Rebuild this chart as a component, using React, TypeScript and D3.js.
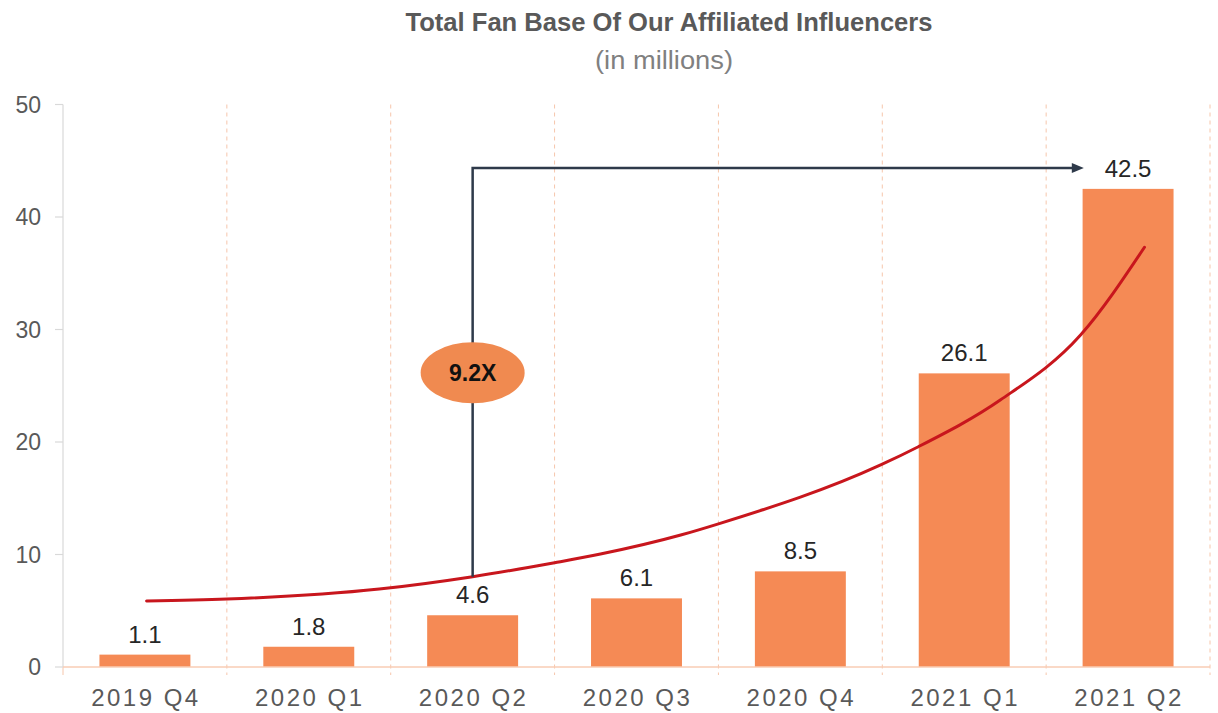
import React from "react";
import * as d3 from "d3";

const categories = ["2019 Q4", "2020 Q1", "2020 Q2", "2020 Q3", "2020 Q4", "2021 Q1", "2021 Q2"];
const fanBase = [1.1, 1.8, 4.6, 6.1, 8.5, 26.1, 42.5];
const yTicks = [0, 10, 20, 30, 40, 50];

// decorative growth curve: position in category units (0 = first category centre), value
const curvePos = [0.01, 0.5, 1.43, 2.0, 2.5, 2.78, 3.27, 3.51, 4.49, 4.72, 5.22, 5.71, 6.1];
const curveVal = [5.87, 6.04, 6.93, 8.03, 9.27, 10.04, 11.73, 12.77, 17.96, 19.58, 23.73, 29.51, 37.31];

// growth annotation: elbow arrow from 2020 Q2 to 2021 Q2
const arrowPos = [2.0, 2.0, 5.73];
const arrowVal = [8.03, 44.36, 44.36];
const badgeLabel = "9.2X";
const badgePos = 2.0;
const badgeVal = 26.16;

const title = "Total Fan Base Of Our Affiliated Influencers";
const subtitle = "(in millions)";

const W = 1218;
const H = 713;
const FONT = "'Liberation Sans', Arial, Helvetica, sans-serif";

export default function App() {
  const left = 63;
  const right = 1210;
  const x = d3.scaleBand<string>().domain(categories).range([left, right]).padding(0);
  const y = d3.scaleLinear().domain([0, 50]).range([667, 104.5]);
  const bw = x.bandwidth();
  const barW = bw * 0.555;
  const xc = (t: number) => left + bw * (t + 0.5);

  const curvePts: [number, number][] = curvePos.map((t, i) => [xc(t), y(curveVal[i])]);
  const curvePath = d3.line().curve(d3.curveMonotoneX)(curvePts) || "";

  const arrowPts: [number, number][] = arrowPos.map((t, i) => [xc(t), y(arrowVal[i])]);
  const arrowPath = d3.line()(arrowPts.slice(0, 2).concat([[arrowPts[2][0] - 8, arrowPts[2][1]]])) || "";
  const tip = arrowPts[2];

  const boundaries = d3.range(categories.length + 1).map((i) => left + i * bw);

  return (
    <svg width={W} height={H} style={{ position: "absolute", left: 0, top: 0, background: "#fff" }} fontFamily={FONT}>
      <rect x={0} y={0} width={W} height={H} fill="#fff" />
      <text x={669} y={31} textAnchor="middle" fontSize={25.5} fontWeight="bold" fill="#595959"
        textLength={527} lengthAdjust="spacingAndGlyphs">{title}</text>
      <text x={664} y={69} textAnchor="middle" fontSize={26} fill="#808080"
        textLength={138} lengthAdjust="spacingAndGlyphs">{subtitle}</text>

      {/* vertical dashed separators */}
      {boundaries.slice(1).map((bx, i) => (
        <line key={"g" + i} x1={bx} x2={bx} y1={y(50)} y2={675} stroke="#F6C6AB" strokeWidth={1} strokeDasharray="4,4" />
      ))}
      <line x1={left} x2={left} y1={675} y2={y(0)} stroke="#F6C6AB" strokeWidth={1} />

      {/* y axis */}
      <line x1={left} x2={left} y1={y(50)} y2={y(0)} stroke="#d9d9d9" strokeWidth={1.2} />
      {yTicks.map((t) => (
        <g key={"y" + t}>
          <line x1={55} x2={left} y1={y(t)} y2={y(t)} stroke="#d9d9d9" strokeWidth={1.2} />
          <text x={41} y={y(t)} dy="0.36em" textAnchor="end" fontSize={23} fill="#595959">{t}</text>
        </g>
      ))}

      {/* bars */}
      {categories.map((c, i) => {
        const cx = (x(c) as number) + bw / 2;
        return (
          <g key={c}>
            <rect x={cx - barW / 2} y={y(fanBase[i])} width={barW} height={y(0) - y(fanBase[i])} fill="#F58A55" />
            <text x={cx} y={y(fanBase[i]) - 12} textAnchor="middle" fontSize={24} fill="#262626">{fanBase[i]}</text>
            <text x={cx + 1} y={706} textAnchor="middle" fontSize={24} fill="#595959" letterSpacing={2.5}>{c}</text>
          </g>
        );
      })}

      {/* x axis line */}
      <line x1={left} x2={right} y1={y(0)} y2={y(0)} stroke="#F9CDB5" strokeWidth={1.5} />

      {/* growth curve */}
      <path d={curvePath} fill="none" stroke="#C8161D" strokeWidth={3} strokeLinecap="round" />

      {/* annotation arrow */}
      <path d={arrowPath} fill="none" stroke="#2E3A4A" strokeWidth={2.5} />
      <path d={`M${tip[0]},${tip[1]} L${tip[0] - 12},${tip[1] - 5} L${tip[0] - 12},${tip[1] + 5} Z`} fill="#2E3A4A" />
      <ellipse cx={xc(badgePos)} cy={y(badgeVal)} rx={52} ry={30.5} fill="#F08A50" />
      <text x={xc(badgePos)} y={y(badgeVal)} dy="0.36em" textAnchor="middle" fontSize={23} fontWeight="bold" fill="#111">{badgeLabel}</text>
    </svg>
  );
}
